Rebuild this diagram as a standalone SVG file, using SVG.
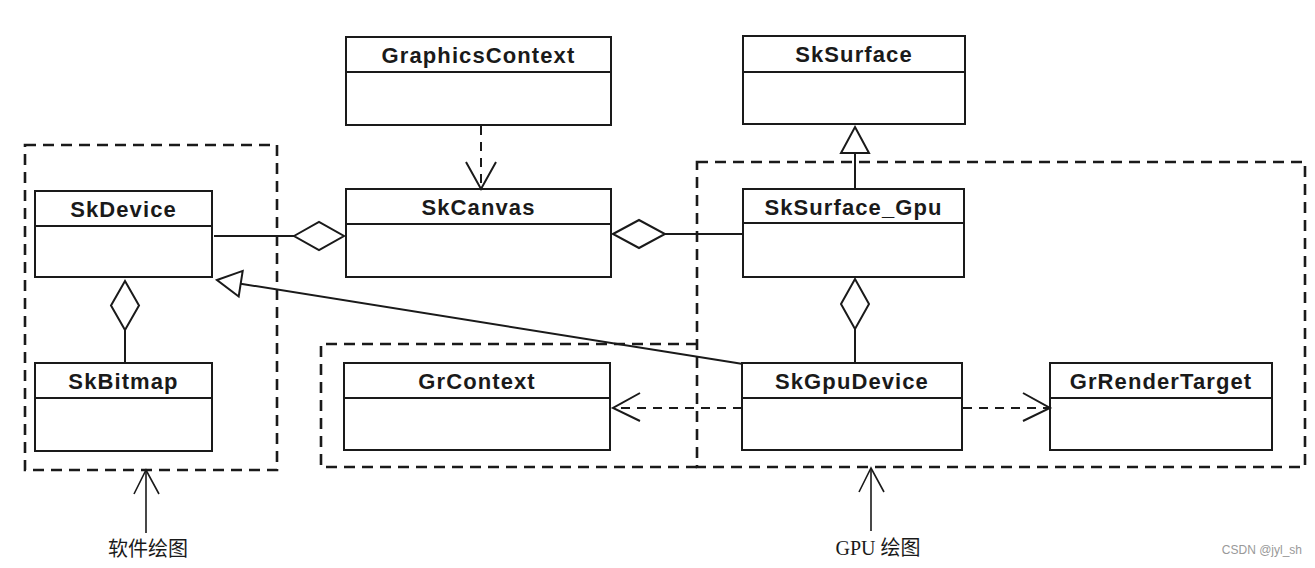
<svg xmlns="http://www.w3.org/2000/svg" width="1315" height="568" viewBox="0 0 1315 568">
<style>
.box{fill:#fff;stroke:#1a1a1a;stroke-width:2}
.div{stroke:#1a1a1a;stroke-width:1.8}
.t{font-family:"Liberation Sans",Arial,sans-serif;font-weight:bold;font-size:22px;letter-spacing:1.1px;fill:#1a1a1a;text-anchor:middle}
.grp{fill:none;stroke:#1a1a1a;stroke-width:2.6;stroke-dasharray:11 7}
.ln{fill:none;stroke:#1a1a1a;stroke-width:2}
.dash{fill:none;stroke:#1a1a1a;stroke-width:2;stroke-dasharray:9 7}
.hol{fill:#fff;stroke:#1a1a1a;stroke-width:2}
.thin{fill:none;stroke:#1a1a1a;stroke-width:1.6}
.lab{font-family:"Liberation Serif","Noto Sans CJK SC",serif;font-size:20px;fill:#1a1a1a;text-anchor:middle}
</style>
<rect width="1315" height="568" fill="#fff"/>
<g id="groups">
<rect class="grp" x="25" y="145" width="252" height="325"/>
<path class="grp" d="M697,344 H321 V467 H697"/>
<rect class="grp" x="697" y="162" width="608" height="305"/>
</g>
<g id="GraphicsContext"><rect class="box" x="346" y="37" width="265" height="88"/><line class="div" x1="346" y1="72" x2="611" y2="72"/><text class="t" x="478.5" y="63">GraphicsContext</text></g>
<g id="SkSurface"><rect class="box" x="743" y="36" width="222" height="88"/><line class="div" x1="743" y1="72" x2="965" y2="72"/><text class="t" x="854" y="62">SkSurface</text></g>
<g id="SkDevice"><rect class="box" x="35" y="191" width="177" height="86"/><line class="div" x1="35" y1="226" x2="212" y2="226"/><text class="t" x="123.5" y="217">SkDevice</text></g>
<g id="SkCanvas"><rect class="box" x="346" y="189" width="265" height="88"/><line class="div" x1="346" y1="224" x2="611" y2="224"/><text class="t" x="478.5" y="215">SkCanvas</text></g>
<g id="SkSurface_Gpu"><rect class="box" x="743" y="189" width="221" height="88"/><line class="div" x1="743" y1="223" x2="964" y2="223"/><text class="t" x="853.5" y="215">SkSurface_Gpu</text></g>
<g id="SkBitmap"><rect class="box" x="35" y="363" width="177" height="88"/><line class="div" x1="35" y1="398" x2="212" y2="398"/><text class="t" x="123.5" y="389">SkBitmap</text></g>
<g id="GrContext"><rect class="box" x="344" y="363" width="266" height="87"/><line class="div" x1="344" y1="398" x2="610" y2="398"/><text class="t" x="477" y="389">GrContext</text></g>
<g id="SkGpuDevice"><rect class="box" x="742" y="363" width="220" height="87"/><line class="div" x1="742" y1="398" x2="962" y2="398"/><text class="t" x="852" y="389">SkGpuDevice</text></g>
<g id="GrRenderTarget"><rect class="box" x="1050" y="363" width="222" height="87"/><line class="div" x1="1050" y1="398" x2="1272" y2="398"/><text class="t" x="1161" y="389">GrRenderTarget</text></g>
<g id="connectors">
<line class="ln" x1="214" y1="236" x2="294" y2="236"/>
<polygon class="hol" points="294,236 319,222 344,236 319,250"/>
<line class="ln" x1="665" y1="234" x2="743" y2="234"/>
<polygon class="hol" points="613,234 639,220 665,234 639,248"/>
<polygon class="hol" points="125,281 139,305.5 125,330 111,305.5"/>
<line class="ln" x1="125" y1="330" x2="125" y2="363"/>
<polygon class="hol" points="855,279 869,304 855,329 841,304"/>
<line class="ln" x1="855" y1="329" x2="855" y2="363"/>
<line class="dash" x1="481" y1="126" x2="481" y2="188"/>
<polyline class="ln" points="466,162 481,189 496,162"/>
<line class="ln" x1="855" y1="153" x2="855" y2="189"/>
<polygon class="hol" points="855,127 869,153 841,153"/>
<line class="ln" x1="743" y1="364" x2="240.7" y2="283.7"/>
<polygon class="hol" points="217,280 242.7,270.9 238.7,296.5"/>
<line class="dash" x1="742" y1="408" x2="614" y2="408"/>
<polyline class="ln" points="640,393 613,408 640,421"/>
<line class="dash" x1="963" y1="408" x2="1049" y2="408"/>
<polyline class="ln" points="1023,393 1050,408 1023,421"/>
<line class="thin" x1="146" y1="533" x2="146" y2="470"/>
<polyline class="thin" points="134,494 146,470 159,494"/>
<line class="thin" x1="871" y1="531" x2="871" y2="468"/>
<polyline class="thin" points="859,492 871,468 884,492"/>
</g>
<text class="lab" x="148" y="556">软件绘图</text>
<text class="lab" x="878" y="555">GPU 绘图</text>
<text x="1302" y="554" font-family="'Liberation Sans',Arial,sans-serif" font-size="12" fill="#999" text-anchor="end">CSDN @jyl_sh</text>
</svg>
